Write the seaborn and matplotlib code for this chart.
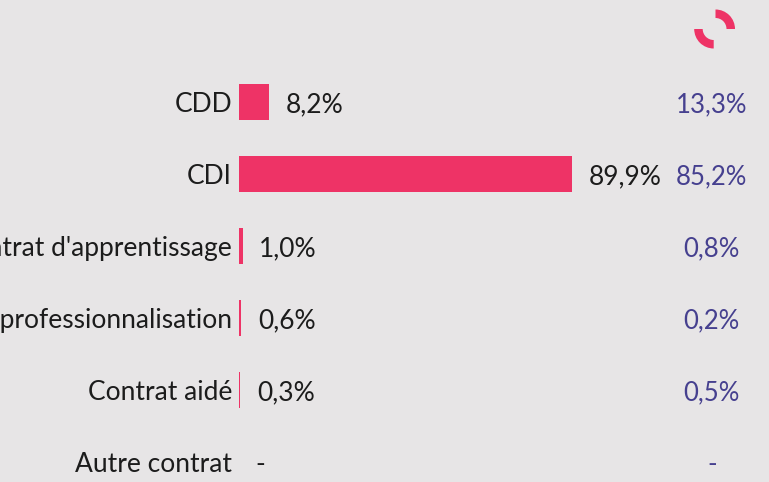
import matplotlib
matplotlib.use('Agg')
import matplotlib.pyplot as plt
from matplotlib.patches import Wedge
from matplotlib.transforms import IdentityTransform
import pandas as pd
import seaborn as sns

contracts = ['CDD', 'CDI', "Contrat d'apprentissage", 'Contrat de professionnalisation', 'Contrat aidé', 'Autre contrat']
values = [8.2, 89.9, 1.0, 0.6, 0.3, None]
value_labels = ['8,2%', '89,9%', '1,0%', '0,6%', '0,3%', '-']
other_labels = ['13,3%', '85,2%', '0,8%', '0,2%', '0,5%', '-']

BG = '#e7e5e6'
PINK = '#ee3366'
PURPLE = '#46408f'
DARK = '#1c1c1c'

sns.set_theme(style='white')
plt.rcParams['font.family'] = ['Lato', 'DejaVu Sans']

df = pd.DataFrame({'contrat': contracts, 'valeur': values})

fig = plt.figure(figsize=(7.69, 4.82), dpi=100, facecolor=BG)
# axes start at the bar baseline, labels run off the left edge like the original
ax = fig.add_axes([239 / 769, 0, 530 / 769, 1], facecolor=BG)
ax.patch.set_alpha(0)

sns.barplot(data=df, x='valeur', y='contrat', order=contracts, color=PINK, width=0.5,
            saturation=1, linewidth=0, ax=ax)
ax.set_xlim(0, 530 / 3.7)
ax.set_ylim(380 / 72, -102 / 72)
ax.set_xlabel('')
ax.set_ylabel('')
ax.set_xticks([])
ax.tick_params(axis='y', length=0, pad=5, labelsize=19, labelcolor=DARK)
sns.despine(ax=ax, left=True, bottom=True)

for i, (val, lab, other) in enumerate(zip(values, value_labels, other_labels)):
    ax.annotate(lab, (val if val else 0, i), xytext=(12, -2), textcoords='offset points',
                ha='left', va='center', fontsize=19, color=DARK)
    ax.annotate(other, (127.8, i), xytext=(0, -2), textcoords='offset points',
                ha='center', va='center', fontsize=18.5, color=PURPLE)

# small logo top right
for center, start, end in [((715.5, 453), 0, 90), ((713.7, 453), 180, 270)]:
    fig.add_artist(Wedge(center, 19.5, start, end, width=8.5, color=PINK, lw=0,
                         transform=IdentityTransform()))

fig.savefig('out.png', dpi=100, facecolor=BG)
